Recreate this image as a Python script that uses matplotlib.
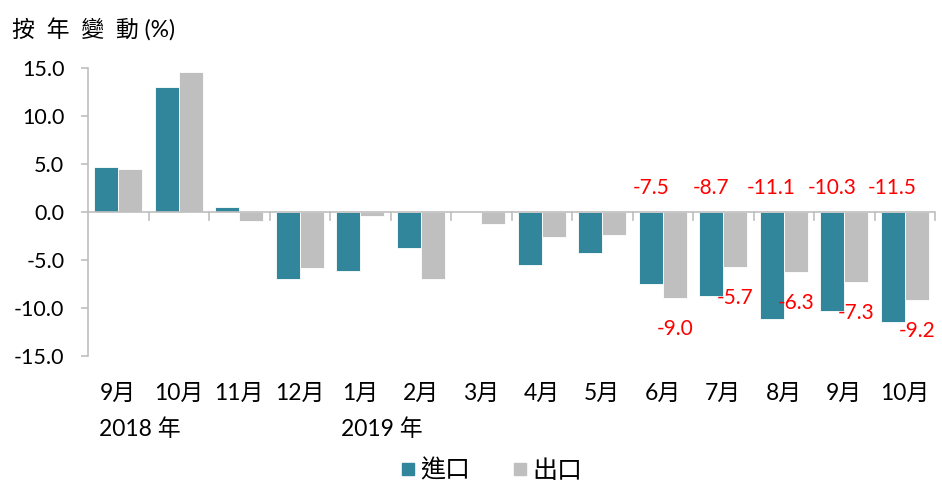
import matplotlib
matplotlib.use("Agg")
import matplotlib.pyplot as plt
import numpy as np
from matplotlib.lines import Line2D

plt.rcParams['font.family'] = ['Lato', 'Noto Sans CJK TC', 'DejaVu Sans']

months = ['9月', '10月', '11月', '12月', '1月', '2月', '3月', '4月', '5月',
          '6月', '7月', '8月', '9月', '10月']
years = {0: '2018 年', 4: '2019 年'}
imports = [4.7, 13.0, 0.5, -7.0, -6.1, -3.8, 0.0, -5.5, -4.3,
           -7.5, -8.7, -11.1, -10.3, -11.5]
exports = [4.5, 14.6, -0.9, -5.8, -0.4, -7.0, -1.2, -2.6, -2.4,
           -9.0, -5.7, -6.3, -7.3, -9.2]
label_from = 9  # labels shown for the last five months
series_names = ['進口', '出口']

c_imp = '#31869B'
c_exp = '#BFBFBF'
axis_c = '#BFBFBF'
red = '#FF0000'

fig = plt.figure(figsize=(9.42, 4.84), dpi=100)
ax = fig.add_axes([88/942, 1-356/484, (935-88)/942, (356-68)/484])

x = np.arange(len(months))
w = 0.4
ax.bar(x - w/2, imports, w, color=c_imp, edgecolor='white', linewidth=0.6, zorder=2)
ax.bar(x + w/2, exports, w, color=c_exp, edgecolor='white', linewidth=0.6, zorder=2)

ax.set_xlim(-0.5, len(months) - 0.5)
ax.set_ylim(-15, 15)
ax.set_yticks(np.arange(-15, 15.1, 5))
ax.set_yticklabels([f'{v:.1f}' for v in np.arange(-15, 15.1, 5)], fontsize=15.5)
ax.tick_params(axis='y', direction='out', length=5, color=axis_c, width=1.2, pad=12)

for s in ['top', 'right', 'bottom']:
    ax.spines[s].set_visible(False)
ax.spines['left'].set_color(axis_c)
ax.spines['left'].set_linewidth(1.2)
ax.axhline(0, color=axis_c, lw=1.2, zorder=3)

ax.set_xticks([])
# category separator ticks on the zero line
for b in np.arange(0.5, len(months) - 0.4, 1.0):
    ax.plot([b, b], [0, -0.8], color=axis_c, lw=1.2, zorder=3, clip_on=False)

# x labels
for i, m in enumerate(months):
    ax.text(i, -18.9, m, ha='center', va='center', fontsize=16.5)
for i, yv in years.items():
    ax.text(i + 0.35, -22.6, yv, ha='center', va='center', fontsize=16.5)

# data labels
for i in range(label_from, len(months)):
    ax.text(i - w/2, 2.5, f'{imports[i]:.1f}', ha='center', va='center',
            fontsize=15, color=red, zorder=5)
    ax.annotate(f'{exports[i]:.1f}', xy=(i + w/2, exports[i]), xytext=(0, -31),
                textcoords='offset pixels', ha='center', va='center',
                fontsize=15, color=red, zorder=5)

fig.text(12/942, 1-30/484, '按  年  變  動 (%)', ha='left', va='center', fontsize=16.5)

handles = [Line2D([], [], marker='s', linestyle='none', markersize=8, color=c_imp),
           Line2D([], [], marker='s', linestyle='none', markersize=8, color=c_exp)]
fig.legend(handles, series_names, loc='center', bbox_to_anchor=(489/942, 1-470/484),
           ncol=2, frameon=False, fontsize=18, handletextpad=0.0, columnspacing=1.5,
           handlelength=1.0)

fig.savefig('out.png', dpi=100)
